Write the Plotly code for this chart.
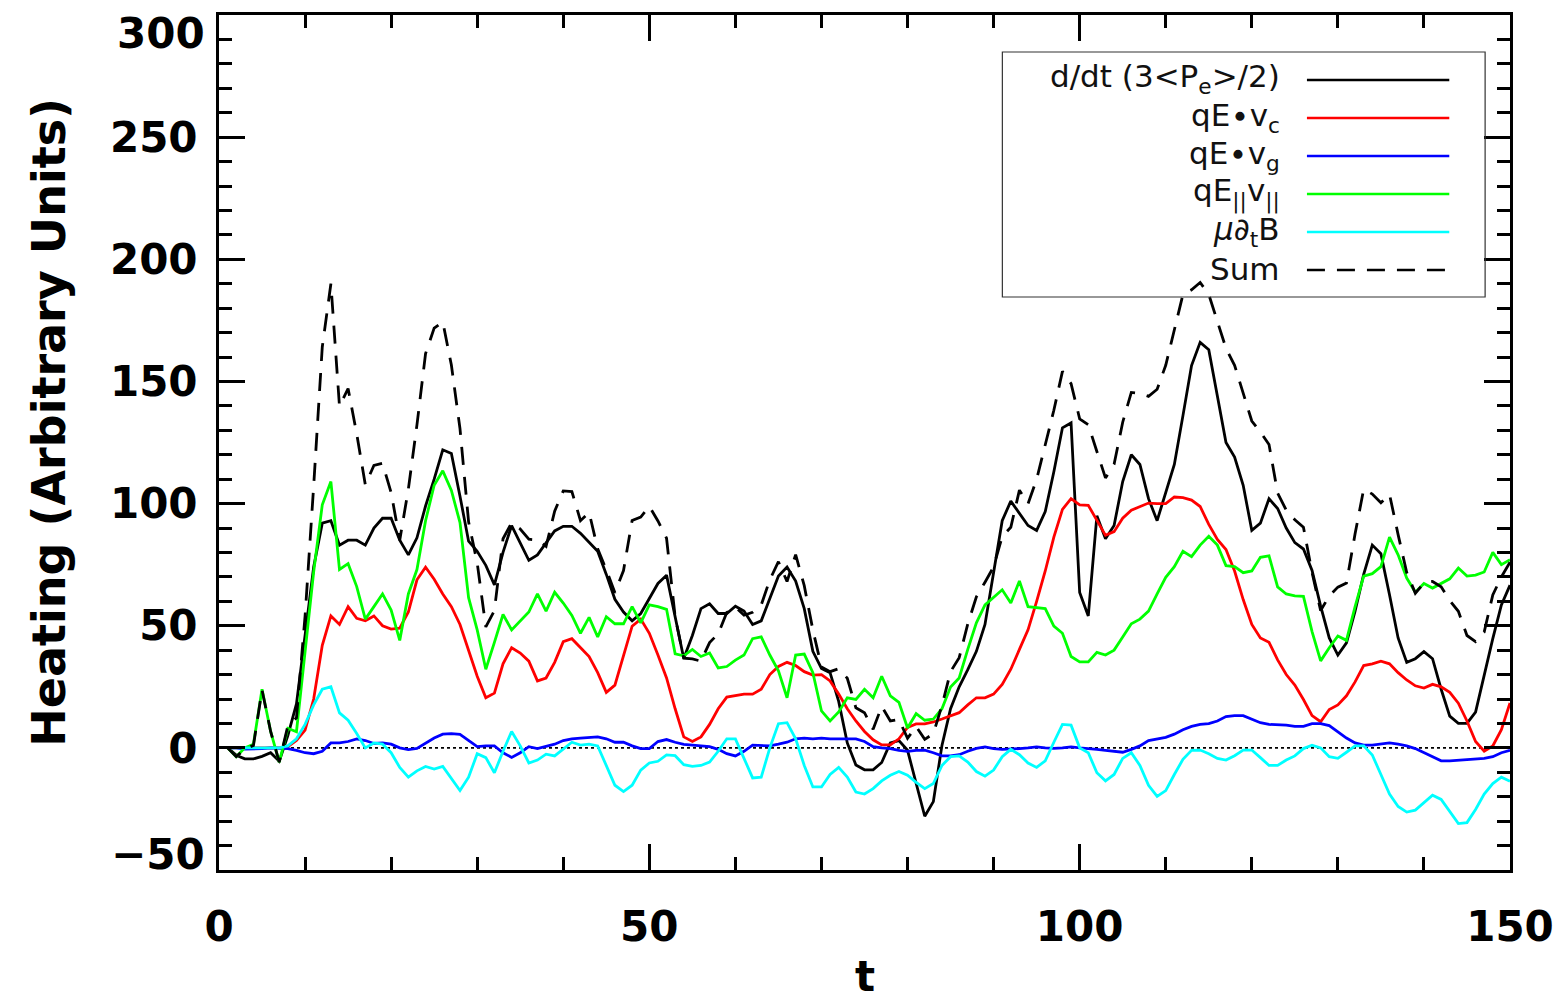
import plotly.graph_objects as go

# ---------------- data ----------------
t = list(range(1, 151))

dPdt = [0, -3, -4.5, -4.5, -3.5, -2, -5.5, 5, 18, 45,
        74, 92, 93, 83, 85, 85, 83, 90, 94, 94,
        85, 79, 86, 99, 110, 122, 120.5, 103, 84.6, 80.5,
        74.7, 66.7, 80, 91, 84, 76.8, 79, 84, 88.8, 90.7,
        90.7, 87.8, 84, 80.5, 71, 60.8, 55.6, 52, 55, 61,
        67.3, 70.7, 53, 36.6, 46, 57, 59, 55, 55, 58,
        56, 50.5, 52, 60.8, 70.3, 74, 68.3, 57, 39.5, 32.5,
        30.8, 19, 2, -7, -9, -9, -6, 2, 3, -1,
        -14, -28, -22, 1, 16, 25, 32, 39.5, 50.5, 72,
        93, 101, 96, 91, 89, 96.7, 113, 131, 133, 63.6,
        54, 95, 85.6, 91, 109, 120, 116, 102, 93, 104.6,
        116, 136, 156.5, 166, 163, 144, 125, 119, 107.5, 89,
        92, 102, 98, 90, 84, 81.4, 72.6, 58, 45, 38,
        43, 56, 71, 83, 79.5, 62.7, 45, 35, 36.5, 39.4,
        36.5, 24, 13, 10, 10, 14.6, 30, 44.7, 58.5, 66.6]

qEvc = [0, 0, 0, 0, 0, 0, 0, 0.5, 3, 7.3,
        20, 42, 54, 50.5, 57.8, 53, 52, 54, 50, 48.6,
        49, 55.6, 68.8, 74, 69, 63, 57.8, 50.5, 40, 29.3,
        20.5, 22.4, 34.4, 41, 38.8, 35.5, 27.4, 28.6, 35, 43.5,
        44.7, 41, 37.4, 30.8, 22.7, 25.7, 37.4, 49.8, 52.7, 46.9,
        38, 28.6, 16, 4.5, 2.6, 4.5, 9.6, 16, 20.8, 21.3,
        22, 22, 24, 30, 33.3, 35, 33.7, 31.2, 29.8, 30,
        27.4, 22, 16, 11, 6.7, 3.3, 1.2, 1.2, 3.7, 8.4,
        9.8, 9.8, 10.6, 11.8, 13.2, 14.4, 17.6, 20.5, 20.5, 22,
        26, 32.2, 40.3, 48.3, 60, 72.4, 86.3, 97.6, 102, 99.5,
        99.3, 93, 87, 88.5, 94, 97.3, 98.8, 100.2, 100, 100,
        102.7, 102.4, 101.4, 98.8, 91.5, 85.3, 81.2, 72.4, 60.7, 50.5,
        45, 43.2, 36, 30, 25.7, 19.8, 13.2, 10.7, 15.7, 17.6,
        21.3, 27, 33.7, 34.4, 35.5, 34.4, 30.8, 27.8, 25.4, 24.5,
        26, 25, 22.7, 18.3, 11, 2.6, -1.4, 0.8, 7.4, 18.4]

qEvg = [0, 0, -0.5, -0.5, -0.3, 0, 0, -0.3, -1, -2,
        -2.4, -1.4, 2, 2, 2.6, 3.7, 3, 1.8, 2, 1.5,
        0, -0.7, -0.2, 2, 4, 5.6, 5.8, 5.5, 3, 0.5,
        0.8, 0.8, -2, -3.9, -2, 0.5, -0.3, 0.5, 1.5, 3,
        3.7, 4, 4.1, 4.5, 3.7, 2.3, 2.3, 0.8, -0.3, -0.3,
        2.6, 3.4, 2.3, 1.4, 1.1, 0.8, 0.5, -0.6, -2.4, -3.3,
        -1.4, 1.1, 1.1, 0.8, 1.5, 2.3, 3.7, 4, 3.7, 4,
        3.7, 3.7, 4, 3.7, 2.6, 0.5, 0, -0.3, -1, -1.4,
        -1, -0.9, -2, -3.3, -3.3, -2.8, -1.4, -0.2, 0.4, -0.3,
        -0.6, -0.6, -0.3, 0, 0.4, 0, -0.2, 0, 0.4, 0,
        -0.2, -0.6, -1, -1.5, -1.8, -0.6, 0.8, 3, 3.7, 4.3,
        5.6, 7.4, 8.8, 9.6, 9.9, 11, 12.8, 13.2, 13.2, 11.8,
        10.3, 9.6, 9.6, 9.3, 8.8, 8.8, 9.9, 9.9, 9.1, 6.7,
        4, 2, 1.1, 1.1, 1.5, 2, 1.5, 0.8, -0.3, -2,
        -3.9, -5.3, -5.3, -5, -4.7, -4.6, -4.3, -3.6, -2, -1]

qEpar = [0, -3.6, 0, 1.5, 24, 6.7, -5.8, 8, 6.6, 39,
         72, 99.5, 109, 73, 75.4, 66, 52.7, 57.8, 63, 56.4,
         44, 63, 73, 93, 107.5, 113.4, 105.4, 92.2, 61.5, 48.3,
         32.2, 43.2, 54.6, 48.3, 52, 55.6, 63, 56, 63.7, 59.3,
         54.2, 46.9, 53.4, 45.4, 53.7, 50.8, 50.8, 57.8, 51.2, 58.5,
         57.8, 56.7, 38.5, 37.7, 40.3, 37.4, 38.8, 32.7, 33.3, 35.9,
         38, 44.7, 45.4, 38, 31.5, 20.5, 38, 38.4, 30.8, 15.1,
         11, 14.7, 20.5, 19.8, 24, 20.5, 29.3, 21.3, 18.6, 8.1,
         14, 11.3, 11.8, 16, 24.9, 28.6, 40.3, 51.2, 58.5, 61.5,
         64.7, 59.3, 68.3, 57.8, 57.5, 57, 49.8, 46.9, 37.4, 35.2,
         35.2, 39.1, 38, 40, 45.4, 50.8, 52.7, 56, 63, 69.8,
         74.2, 80.5, 78.3, 83, 86.6, 83, 74.6, 74.2, 71.7, 72.4,
         78, 78.6, 65.9, 63, 62.2, 62, 47.6, 35.6, 41, 45.8,
         44, 57.8, 70.3, 71.3, 74.2, 86.3, 79, 69.5, 63.7, 67.3,
         65.4, 67.3, 69.2, 73.6, 70.3, 70.7, 72, 80, 75, 77]

mudB = [0, 0, 0, 0, 0, 0, 0, 0.8, 3.7, 9.6,
        17.6, 24, 25, 14.3, 11.3, 5.9, 0, 2, 1.5, -2,
        -8, -12, -9.4, -7.6, -8.7, -7.6, -12.3, -17.5, -12, -2.4,
        -4, -10.2, -1.4, 6.7, 0.8, -6.2, -5, -2.6, -3.3, -0.6,
        2.3, 1.1, 1.5, 0.8, -7.2, -15.3, -17.9, -15.3, -9.1, -6.2,
        -5.5, -2.9, -3.2, -6.9, -7.6, -7.2, -5.8, -1.4, 3.7, 3.7,
        -4.3, -12.3, -12, 0, 9.9, 10.3, 3.7, -7.2, -16, -16,
        -10.9, -8, -12, -18.1, -18.9, -16.7, -13.5, -11.2, -9.7, -11.2,
        -14.1, -16.7, -14.6, -7.2, -3.6, -3.3, -5.8, -9.7, -11.6, -9.1,
        -3.6, -0.6, -2.8, -6.2, -8, -5.3, 2.3, 9.6, 9.3, 0,
        -2, -10.2, -13.5, -10.9, -4.3, -2, -7.2, -15.3, -19.9, -17.5,
        -10.9, -4.7, -1, -0.9, -2.4, -4.3, -5, -3.2, -0.9, -0.9,
        -4, -7.2, -7.2, -5, -3.3, -0.3, 1.1, 0, -3.6, -4.3,
        -1.8, 0.8, 0.8, -2.9, -10.9, -18.9, -24, -26.3, -25.5, -22.3,
        -19.4, -21.1, -26.3, -31, -30.6, -25.2, -18.9, -14.6, -12, -13.7]

total = [0, -3.6, -0.5, 1, 23.7, 6.7, -5.8, 9, 12.3, 53.9,
         107.2, 164.1, 190, 139.8, 147.1, 128.6, 107.7, 115.6, 116.5, 104.5,
         85, 105.9, 132.2, 161.4, 171.8, 174.4, 156.7, 130.7, 92.5, 75.7,
         49.5, 56.2, 85.6, 92.1, 89.6, 85.4, 85.1, 82.5, 96.9, 105.2,
         104.9, 93, 96.4, 81.5, 72.9, 63.5, 72.6, 93.1, 94.5, 98.9,
         92.9, 85.8, 53.6, 36.7, 36.4, 35.5, 43.1, 46.7, 55.4, 57.6,
         54.3, 55.5, 58.5, 68.8, 76.2, 68.1, 79.1, 66.4, 48.3, 33.1,
         31.2, 32.4, 28.5, 16.4, 14.4, 7.6, 17, 11, 11.6, 3.9,
         8.7, 3.5, 5.8, 17.3, 31.2, 36.9, 50.7, 61.8, 67.8, 74.1,
         86.5, 90.3, 105.5, 99.9, 109.9, 124.1, 138.2, 154.1, 149.1, 134.7,
         132.3, 121.3, 110.5, 116.1, 133.3, 145.5, 145.1, 143.9, 146.8, 156.6,
         171.6, 185.6, 187.5, 190.5, 185.6, 175, 163.6, 156.6, 144.7, 133.8,
         129.3, 124.2, 104.3, 97.3, 93.4, 90.3, 71.8, 56.2, 62.2, 65.8,
         67.5, 87.6, 105.9, 103.9, 100.3, 103.8, 87.3, 71.8, 63.3, 67.5,
         68.1, 65.9, 60.3, 55.9, 46, 43.5, 47.4, 62.6, 70, 76]

series_names = ["d/dt (3<P<sub>e</sub>>/2)", "qE∙v<sub>c</sub>", "qE∙v<sub>g</sub>",
                "qE<sub>||</sub>v<sub>||</sub>", "<i>μ∂</i><sub>t</sub>B", "Sum"]
series_colors = ["#000000", "#ff0000", "#0000ff", "#00ff00", "#00ffff", "#000000"]
series_dash = ["solid", "solid", "solid", "solid", "solid", "18px,12px"]
series_values = [dPdt, qEvc, qEvg, qEpar, mudB, total]

x_ticks = [0, 50, 100, 150]
y_ticks = [-50, 0, 50, 100, 150, 200, 250, 300]

# ---------------- figure ----------------
W, H = 1566, 1005
L, R, T, B = 219, 50, 15, 135
pw, ph = W - L - R, H - T - B

def px2paper_x(px):
    return (px - L) / pw

def px2paper_y(py):
    return (H - B - py) / ph

fig = go.Figure()
for name, col, dsh, vals in zip(series_names, series_colors, series_dash, series_values):
    fig.add_trace(go.Scatter(x=t, y=vals, mode="lines", name=name,
                             line=dict(color=col, width=2.8, dash=dsh),
                             showlegend=False))

tickfont = dict(family="DejaVu Sans", size=42, color="black", weight="bold")
axis_common = dict(showline=True, linecolor="black", linewidth=3, mirror="ticks",
                   ticks="inside", ticklen=26, tickwidth=3, tickcolor="black",
                   showgrid=False, zeroline=False, tickfont=tickfont)

fig.update_xaxes(range=[0, 150], tickmode="array", tickvals=x_ticks,
                 ticktext=[str(v) for v in x_ticks], ticklabelstandoff=18,
                 minor=dict(dtick=10, ticks="inside", ticklen=13, tickwidth=2.5,
                            tickcolor="black", showgrid=False),
                 **axis_common)
ytext = [("" if v in (-50, 300) else str(v)) for v in y_ticks]
fig.update_yaxes(range=[-50, 300], tickmode="array", tickvals=y_ticks,
                 ticktext=ytext, ticklabelstandoff=10,
                 minor=dict(dtick=10, ticks="inside", ticklen=13, tickwidth=2.5,
                            tickcolor="black", showgrid=False),
                 **axis_common)

shapes = []
# zero dotted line
shapes.append(dict(type="line", xref="x", yref="y", x0=0, x1=150, y0=0, y1=0,
                   line=dict(color="black", width=1.8, dash="dot"), layer="below"))
# legend box (no fill so the curves stay visible through it, as in the original)
shapes.append(dict(type="rect", xref="paper", yref="paper",
                   x0=px2paper_x(1006), x1=px2paper_x(1491),
                   y0=px2paper_y(297), y1=px2paper_y(52),
                   line=dict(color="#333333", width=1.2), fillcolor="rgba(0,0,0,0)"))

annotations = []
row_y = [79, 117, 155, 193, 231, 269]
for name, col, dsh, yy in zip(series_names, series_colors, series_dash, row_y):
    shapes.append(dict(type="line", xref="paper", yref="paper",
                       x0=px2paper_x(1312), x1=px2paper_x(1455),
                       y0=px2paper_y(yy + 1), y1=px2paper_y(yy + 1),
                       line=dict(color=col, width=2.6, dash=dsh)))
    annotations.append(dict(xref="paper", yref="paper", x=px2paper_x(1287),
                            y=px2paper_y(yy), xanchor="right", yanchor="middle",
                            text=name, showarrow=False,
                            font=dict(family="DejaVu Sans", size=31, color="#111111")))

# end tick labels (shifted inward like the original)
annotations.append(dict(xref="paper", yref="y", x=px2paper_x(207), y=300, yshift=-18,
                        xanchor="right", yanchor="middle", text="300", showarrow=False,
                        font=tickfont))
annotations.append(dict(xref="paper", yref="y", x=px2paper_x(207), y=-50, yshift=16,
                        xanchor="right", yanchor="middle", text="−50", showarrow=False,
                        font=tickfont))
# axis titles
annotations.append(dict(xref="paper", yref="paper", x=px2paper_x(48), y=px2paper_y(422),
                        xanchor="center", yanchor="middle", textangle=-90,
                        text="Heating (Arbitrary Units)", showarrow=False,
                        font=dict(family="DejaVu Sans", size=46, color="black", weight="bold")))
annotations.append(dict(xref="paper", yref="paper", x=0.5, y=px2paper_y(976),
                        xanchor="center", yanchor="middle",
                        text="t", showarrow=False,
                        font=dict(family="DejaVu Sans", size=42, color="black", weight="bold")))

fig.update_layout(width=W, height=H, margin=dict(l=L, r=R, t=T, b=B),
                  paper_bgcolor="white", plot_bgcolor="white",
                  shapes=shapes, annotations=annotations, showlegend=False)

fig.write_html("out.html")
